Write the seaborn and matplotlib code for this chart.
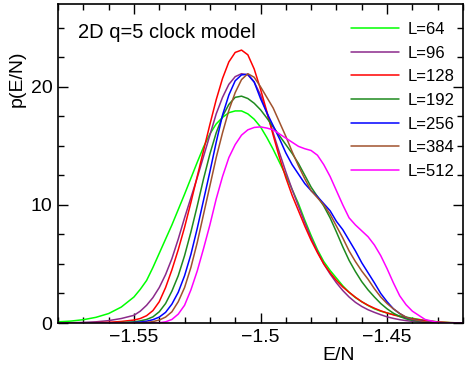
import matplotlib
matplotlib.use("Agg")
import numpy as np
import pandas as pd
import matplotlib.pyplot as plt
import seaborn as sns
from matplotlib.ticker import MultipleLocator, FixedLocator, FixedFormatter

# energy per site, finer steps where the curves bend
energie = [-1.580, -1.575, -1.570, -1.565, -1.560, -1.555,
           -1.5500, -1.5475, -1.5450, -1.5425, -1.5400, -1.5375, -1.5350, -1.5325, -1.5300, -1.5275,
           -1.5250, -1.5225, -1.5200, -1.5175, -1.5150, -1.5125, -1.5100, -1.5075, -1.5050, -1.5025,
           -1.5000, -1.4975, -1.4950, -1.4925, -1.4900, -1.4875, -1.4850, -1.4825, -1.4800, -1.4775,
           -1.4750, -1.4725, -1.4700, -1.4675, -1.4650, -1.4625, -1.4600, -1.4575, -1.4550, -1.4525,
           -1.4500, -1.4475, -1.4450, -1.4425, -1.4400,
           -1.435, -1.430, -1.425, -1.420]

p_L64 = [0.10, 0.16, 0.28, 0.48, 0.80, 1.35,
         2.20, 2.85, 3.60, 4.70, 5.90, 7.10, 8.30, 9.60, 10.9, 12.25,
         13.6, 14.9, 16.0, 16.85, 17.4, 17.8, 17.95, 17.95, 17.7, 17.25,
         16.6, 15.7, 14.7, 13.6, 12.5, 11.3, 10.1, 8.7, 7.4, 6.2,
         5.2, 4.45, 3.8, 3.15, 2.6, 2.15, 1.8, 1.48, 1.2, 1.0,
         0.85, 0.72, 0.6, 0.5, 0.4,
         0.22, 0.1, 0.03, 0.0]
p_L96 = [0.0, 0.02, 0.05, 0.10, 0.20, 0.38,
         0.65, 1.0, 1.5, 2.15, 3.0, 4.1, 5.45, 7.1, 8.9, 10.6,
         12.3, 14.1, 15.9, 17.7, 19.1, 20.2, 20.85, 21.1, 21.0, 20.4,
         19.3, 17.8, 16.1, 14.4, 12.8, 11.3, 9.9, 8.5, 7.2, 6.05,
         5.0, 4.15, 3.4, 2.75, 2.2, 1.75, 1.4, 1.12, 0.9, 0.7,
         0.52, 0.39, 0.28, 0.2, 0.14,
         0.06, 0.02, 0.0, 0.0]
p_L128 = [0.0, 0.0, 0.01, 0.03, 0.06, 0.13,
          0.25, 0.38, 0.62, 1.05, 1.8, 3.0, 4.5, 6.2, 8.1, 10.2,
          12.4, 14.6, 16.8, 18.9, 20.7, 22.1, 22.9, 23.1, 22.7, 21.5,
          19.8, 17.9, 15.9, 14.0, 12.3, 10.8, 9.5, 8.2, 7.0, 5.95,
          5.0, 4.25, 3.6, 3.05, 2.6, 2.18, 1.8, 1.5, 1.25, 1.03,
          0.85, 0.69, 0.55, 0.44, 0.35,
          0.2, 0.09, 0.03, 0.0]
p_L192 = [0.0, 0.0, 0.0, 0.0, 0.01, 0.04,
          0.1, 0.18, 0.3, 0.52, 0.95, 1.65, 2.7, 4.0, 5.7, 7.7,
          9.9, 12.2, 14.3, 16.1, 17.5, 18.5, 19.1, 19.2, 19.0, 18.6,
          18.05, 17.35, 16.6, 15.85, 15.1, 14.35, 13.5, 12.5, 11.5, 10.7,
          9.9, 8.9, 7.7, 6.45, 5.3, 4.35, 3.5, 2.8, 2.2, 1.65,
          1.2, 0.83, 0.55, 0.35, 0.22,
          0.08, 0.02, 0.0, 0.0]
p_L256 = [0.0, 0.0, 0.0, 0.0, 0.0, 0.01,
          0.04, 0.08, 0.15, 0.28, 0.5, 0.9, 1.6, 2.6, 4.0, 5.8,
          8.0, 10.4, 12.8, 15.3, 17.6, 19.3, 20.5, 21.0, 21.05, 20.4,
          19.0, 17.8, 16.7, 15.6, 14.4, 13.4, 12.6, 11.8, 11.2, 10.7,
          10.1, 9.5, 8.6, 7.9, 7.0, 6.1, 5.1, 4.25, 3.4, 2.5,
          1.8, 1.2, 0.8, 0.48, 0.3,
          0.1, 0.03, 0.0, 0.0]
p_L384 = [0.0, 0.0, 0.0, 0.0, 0.0, 0.0,
          0.01, 0.02, 0.05, 0.12, 0.25, 0.5, 0.95, 1.8, 3.0, 4.7,
          6.8, 9.2, 11.6, 14.0, 16.1, 18.0, 19.5, 20.6, 21.1, 20.8,
          20.0, 19.1, 18.2, 17.0, 15.8, 14.5, 13.3, 12.2, 11.2, 10.6,
          10.0, 9.2, 8.2, 7.2, 6.1, 5.2, 4.4, 3.7, 2.9, 2.2,
          1.65, 1.2, 0.8, 0.5, 0.3,
          0.1, 0.03, 0.0, 0.0]
p_L512 = [0.0, 0.0, 0.0, 0.0, 0.0, 0.0,
          0.0, 0.0, 0.0, 0.0, 0.02, 0.1, 0.3, 0.75, 1.5, 2.8,
          4.4, 6.3, 8.3, 10.5, 12.4, 14.0, 15.1, 15.9, 16.35, 16.55,
          16.6, 16.5, 16.35, 16.0, 15.65, 15.3, 14.95, 14.75, 14.6, 14.2,
          13.4, 12.4, 11.2, 10.0, 8.9, 8.3, 7.8, 7.3, 6.6, 5.7,
          4.6, 3.4, 2.3, 1.55, 1.0,
          0.3, 0.05, 0.0, 0.0]

tailles = ["L=64", "L=96", "L=128", "L=192", "L=256", "L=384", "L=512"]
series = [p_L64, p_L96, p_L128, p_L192, p_L256, p_L384, p_L512]
couleurs = ["#00ff00", "#8b2a8b", "#ff0000", "#1e8a1e",
            "#0000ff", "#a0522d", "#ff00ff"]

df = pd.concat([pd.DataFrame({"E": energie, "p": s, "L": t})
                for t, s in zip(tailles, series)], ignore_index=True)

sns.set_theme(style="ticks")
plt.rcParams["font.family"] = ["Liberation Sans", "DejaVu Sans"]
plt.rcParams["text.color"] = "black"
plt.rcParams["axes.labelcolor"] = "black"

fig = plt.figure(figsize=(4.69, 3.73), dpi=100)
ax = fig.add_axes([58 / 469, 50 / 373, 405 / 469, 319 / 373])

sns.lineplot(data=df, x="E", y="p", hue="L", hue_order=tailles,
             palette=dict(zip(tailles, couleurs)), linewidth=1.1,
             sort=False, ax=ax)

ax.set_xlim(-1.58, -1.42)
ax.set_ylim(0, 27)
ax.xaxis.set_major_locator(FixedLocator([-1.55, -1.5, -1.45]))
ax.xaxis.set_major_formatter(FixedFormatter(["\u22121.55", "\u22121.5", "\u22121.45"]))
ax.xaxis.set_minor_locator(MultipleLocator(0.01))
ax.yaxis.set_major_locator(MultipleLocator(10))
ax.yaxis.set_minor_locator(MultipleLocator(2.5))
ax.tick_params(which="both", direction="in", top=True, right=True,
               labelsize=14, colors="black", width=1.0)
ax.tick_params(which="major", length=7, pad=4)
ax.tick_params(which="minor", length=4)
for sp in ax.spines.values():
    sp.set_linewidth(1.2)
    sp.set_color("black")

ax.set_xlabel("E/N", fontsize=14)
ax.set_ylabel("p(E/N)", fontsize=14)
ax.xaxis.set_label_coords(0.694, -0.075)
ax.yaxis.set_label_coords(-0.079, 0.765)

ax.text(0.049, 0.893, "2D q=5 clock model", transform=ax.transAxes,
        fontsize=14.5, va="baseline", ha="left", color="black")

handles, labels = ax.get_legend_handles_labels()
ax.legend(handles, labels, loc="upper left", bbox_to_anchor=(0.7227, 0.944),
          frameon=False, fontsize=12, handlelength=2.9, handletextpad=0.5,
          labelspacing=0.52, borderpad=0, borderaxespad=0)

fig.savefig("out.png", dpi=100)
